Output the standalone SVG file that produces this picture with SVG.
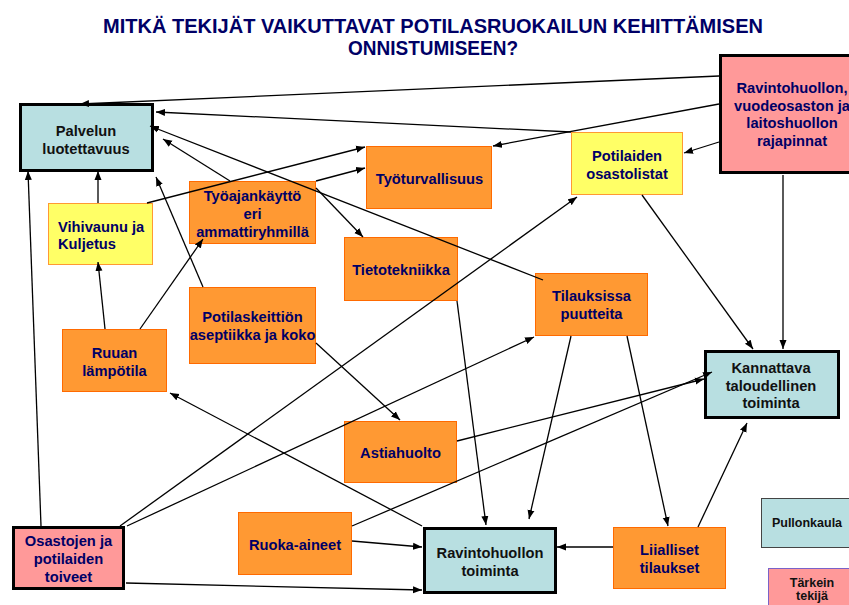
<svg xmlns="http://www.w3.org/2000/svg" width="849" height="605" viewBox="0 0 849 605">
  <style>
    text { font-family: "Liberation Sans", Arial, sans-serif; font-weight: bold; text-anchor: middle; }
    .title { font-size: 19.7px; fill: #000066; }
    .t { font-size: 14.7px; fill: #000066; }
    .tk { font-size: 14.7px; fill: #111111; }
    .lg { font-size: 12.5px; fill: #111111; }
    .blue { fill: #b8dfe1; stroke: #000; stroke-width: 3; }
    .pink { fill: #ff9999; stroke: #000; stroke-width: 3; }
    .orange { fill: #ff9933; stroke: #ff6a00; stroke-width: 1; }
    .yellow { fill: #ffff66; stroke: #ff9933; stroke-width: 1; }
    .edge { stroke: #000; stroke-width: 1.3; fill: none; marker-end: url(#arrow); }
  </style>
  <defs>
    <marker id="arrow" markerUnits="userSpaceOnUse" markerWidth="10" markerHeight="8" refX="9" refY="4" orient="auto">
      <path d="M0,0.5 L9,4 L0,7.5 z" fill="#000"/>
    </marker>
  </defs>

  <rect width="849" height="605" fill="#ffffff"/>

  <!-- heading -->
  <text class="title" x="433" y="33" textLength="660" lengthAdjust="spacingAndGlyphs">MITKÄ TEKIJÄT VAIKUTTAVAT POTILASRUOKAILUN KEHITTÄMISEN</text>
  <text class="title" x="433" y="55" textLength="170" lengthAdjust="spacingAndGlyphs">ONNISTUMISEEN?</text>

  <!-- nodes -->
  <g id="palvelun-luotettavuus">
    <rect class="blue" x="20.5" y="104.5" width="132" height="66"/>
    <text class="tk" x="86" y="136">Palvelun</text>
    <text class="tk" x="86" y="153.5">luotettavuus</text>
  </g>

  <g id="rajapinnat">
    <rect class="pink" x="720.5" y="55.5" width="145" height="117"/>
    <text class="t" x="792" y="93">Ravintohuollon,</text>
    <text class="t" x="792" y="110.5">vuodeosaston ja</text>
    <text class="t" x="792" y="128">laitoshuollon</text>
    <text class="t" x="792" y="145.5">rajapinnat</text>
  </g>

  <g id="vihivaunu">
    <rect class="yellow" x="48.5" y="203.5" width="104" height="61"/>
    <text class="t" x="58" y="231.5" style="text-anchor:start">Vihivaunu ja</text>
    <text class="t" x="58" y="249" style="text-anchor:start">Kuljetus</text>
  </g>

  <g id="tyoajankaytto">
    <rect class="orange" x="189.5" y="181.5" width="126" height="62"/>
    <text class="t" x="252.5" y="201">Työajankäyttö</text>
    <text class="t" x="252.5" y="219">eri</text>
    <text class="t" x="252.5" y="237">ammattiryhmillä</text>
  </g>

  <g id="tyoturvallisuus">
    <rect class="orange" x="366.5" y="146.5" width="125" height="62"/>
    <text class="t" x="429.5" y="184">Työturvallisuus</text>
  </g>

  <g id="potilaiden-osastolistat">
    <rect class="yellow" x="571.5" y="132.5" width="111" height="62"/>
    <text class="t" x="627" y="161">Potilaiden</text>
    <text class="t" x="627" y="179">osastolistat</text>
  </g>

  <g id="tietotekniikka">
    <rect class="orange" x="344.5" y="237.5" width="113" height="63"/>
    <text class="t" x="401" y="275">Tietotekniikka</text>
  </g>

  <g id="tilauksissa-puutteita">
    <rect class="orange" x="535.5" y="273.5" width="112" height="62"/>
    <text class="t" x="591.5" y="301">Tilauksissa</text>
    <text class="t" x="591.5" y="319">puutteita</text>
  </g>

  <g id="kannattava">
    <rect class="blue" x="705.5" y="351.5" width="133" height="66"/>
    <text class="tk" x="771" y="373">Kannattava</text>
    <text class="tk" x="771" y="390.5">taloudellinen</text>
    <text class="tk" x="771" y="408">toiminta</text>
  </g>

  <g id="ruuan-lampotila">
    <rect class="orange" x="62.5" y="329.5" width="104" height="62"/>
    <text class="t" x="114.5" y="358">Ruuan</text>
    <text class="t" x="114.5" y="376">lämpötila</text>
  </g>

  <g id="potilaskeittio">
    <rect class="orange" x="189.5" y="287.5" width="126" height="76"/>
    <text class="t" x="252.5" y="322">Potilaskeittiön</text>
    <text class="t" x="252.5" y="340">aseptiikka ja koko</text>
  </g>

  <g id="astiahuolto">
    <rect class="orange" x="344.5" y="421.5" width="112" height="61"/>
    <text class="t" x="400.5" y="458">Astiahuolto</text>
  </g>

  <g id="ruoka-aineet">
    <rect class="orange" x="238.5" y="512.5" width="113" height="62"/>
    <text class="t" x="295" y="550">Ruoka-aineet</text>
  </g>

  <g id="osastojen-toiveet">
    <rect class="pink" x="13.5" y="527.5" width="110" height="61"/>
    <text class="t" x="68.5" y="546">Osastojen ja</text>
    <text class="t" x="68.5" y="564">potilaiden</text>
    <text class="t" x="68.5" y="582">toiveet</text>
  </g>

  <g id="ravintohuollon-toiminta">
    <rect class="blue" x="424.5" y="528.5" width="131" height="64"/>
    <text class="tk" x="490" y="558">Ravintohuollon</text>
    <text class="tk" x="490" y="575.5">toiminta</text>
  </g>

  <g id="liialliset-tilaukset">
    <rect class="orange" x="613.5" y="527.5" width="112" height="61"/>
    <text class="t" x="669.5" y="555">Liialliset</text>
    <text class="t" x="669.5" y="573">tilaukset</text>
  </g>

  <!-- legend -->
  <g id="legend-pullonkaula">
    <rect x="761.5" y="498.5" width="110" height="49" fill="#b8dfe1" stroke="#444" stroke-width="1"/>
    <text class="lg" x="807" y="527">Pullonkaula</text>
  </g>
  <g id="legend-tarkein">
    <rect x="768.5" y="568.5" width="100" height="45" fill="#ff9999" stroke="#7a62c8" stroke-width="1"/>
    <text class="lg" x="812" y="587">Tärkein</text>
    <text class="lg" x="812" y="600">tekijä</text>
  </g>

  <!-- connectors -->
  <g id="connectors">
    <line class="edge" x1="719" y1="76" x2="80" y2="104"/>
    <line class="edge" x1="571" y1="132" x2="156" y2="112"/>
    <line class="edge" x1="719" y1="104" x2="493" y2="146"/>
    <line class="edge" x1="719" y1="142" x2="684" y2="153"/>
    <line class="edge" x1="783" y1="175" x2="783" y2="349"/>
    <line class="edge" x1="642" y1="195" x2="753" y2="349"/>
    <line class="edge" x1="98" y1="203" x2="98" y2="171"/>
    <line class="edge" x1="147" y1="203" x2="365" y2="147"/>
    <line class="edge" x1="316" y1="181" x2="365" y2="168"/>
    <line class="edge" x1="230" y1="181" x2="163" y2="139"/>
    <line class="edge" x1="316" y1="188" x2="363" y2="237"/>
    <line class="edge" x1="543" y1="280" x2="150" y2="126"/>
    <line class="edge" x1="203" y1="287" x2="156" y2="177"/>
    <line class="edge" x1="105" y1="329" x2="98" y2="262"/>
    <line class="edge" x1="140" y1="329" x2="203" y2="239"/>
    <line class="edge" x1="41" y1="526" x2="28" y2="171"/>
    <line class="edge" x1="120" y1="526" x2="577" y2="197"/>
    <line class="edge" x1="127" y1="526" x2="534" y2="337"/>
    <line class="edge" x1="126" y1="583" x2="422" y2="590"/>
    <line class="edge" x1="352" y1="541" x2="422" y2="547"/>
    <line class="edge" x1="352" y1="526" x2="712" y2="372"/>
    <line class="edge" x1="457" y1="441" x2="704" y2="379"/>
    <line class="edge" x1="316" y1="343" x2="400" y2="420"/>
    <line class="edge" x1="422" y1="526" x2="170" y2="393"/>
    <line class="edge" x1="457" y1="301" x2="486" y2="525"/>
    <line class="edge" x1="571" y1="336" x2="529" y2="519"/>
    <line class="edge" x1="627" y1="336" x2="668" y2="526"/>
    <line class="edge" x1="613" y1="547" x2="557" y2="547"/>
    <line class="edge" x1="698" y1="527" x2="747" y2="423"/>
  </g>
</svg>
